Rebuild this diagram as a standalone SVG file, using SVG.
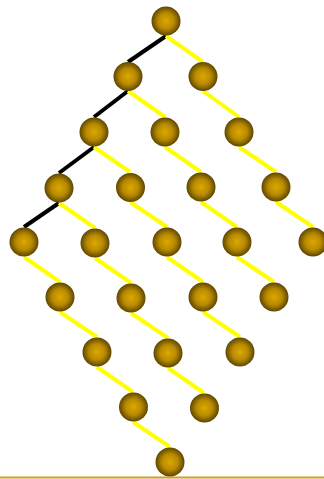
<svg xmlns="http://www.w3.org/2000/svg" width="324" height="479" viewBox="0 0 324 479">
<defs>
<radialGradient id="ball" cx="0.5" cy="0.5" r="0.5">
<stop offset="0" stop-color="#dca800"/>
<stop offset="0.55" stop-color="#b88a00"/>
<stop offset="1" stop-color="#5e4600"/>
</radialGradient>
</defs>
<style>
.n{fill:url(#ball)}
.y{stroke:#ffff00;stroke-width:4;fill:none}
.k{stroke:#000;stroke-width:4;fill:none}
</style>
<rect width="324" height="479" fill="#fff"/>
<line x1="0" y1="477.5" x2="324" y2="477.5" stroke="#d4a017" stroke-width="2"/>
<g id="connectors">
<line class="k" x1="166" y1="36" x2="128" y2="62"/>
<line class="k" x1="128" y1="91" x2="94" y2="117"/>
<line class="k" x1="94" y1="147" x2="59" y2="173"/>
<line class="k" x1="59" y1="203" x2="24" y2="227"/>
<line class="y" x1="166" y1="36" x2="203" y2="62"/>
<line class="y" x1="128" y1="91" x2="165" y2="117"/>
<line class="y" x1="203" y1="91" x2="239" y2="117"/>
<line class="y" x1="94" y1="147" x2="130" y2="172"/>
<line class="y" x1="165" y1="147" x2="201" y2="172"/>
<line class="y" x1="239" y1="147" x2="276" y2="172"/>
<line class="y" x1="59" y1="203" x2="95" y2="228"/>
<line class="y" x1="130" y1="202" x2="167" y2="227"/>
<line class="y" x1="201" y1="202" x2="237" y2="227"/>
<line class="y" x1="276" y1="202" x2="313" y2="227"/>
<line class="y" x1="24" y1="257" x2="60" y2="282"/>
<line class="y" x1="95" y1="258" x2="131" y2="283"/>
<line class="y" x1="167" y1="257" x2="203" y2="282"/>
<line class="y" x1="237" y1="257" x2="274" y2="282"/>
<line class="y" x1="60" y1="312" x2="97" y2="337"/>
<line class="y" x1="131" y1="313" x2="168" y2="338"/>
<line class="y" x1="203" y1="312" x2="240" y2="337"/>
<line class="y" x1="97" y1="367" x2="133" y2="392"/>
<line class="y" x1="168" y1="368" x2="204" y2="393"/>
<line class="y" x1="133" y1="422" x2="170" y2="447"/>
</g>
<g id="n1"><circle class="n" cx="166" cy="21" r="14.5"/></g>
<g id="n2"><circle class="n" cx="128" cy="76.5" r="14.5"/></g>
<g id="n3"><circle class="n" cx="203" cy="76.5" r="14.5"/></g>
<g id="n4"><circle class="n" cx="94" cy="132" r="14.5"/></g>
<g id="n5"><circle class="n" cx="165" cy="132" r="14.5"/></g>
<g id="n6"><circle class="n" cx="239" cy="132" r="14.5"/></g>
<g id="n7"><circle class="n" cx="59" cy="188" r="14.5"/></g>
<g id="n8"><circle class="n" cx="130.5" cy="187.5" r="14.5"/></g>
<g id="n9"><circle class="n" cx="201" cy="187" r="14.5"/></g>
<g id="n10"><circle class="n" cx="276" cy="187" r="14.5"/></g>
<g id="n11"><circle class="n" cx="24" cy="242" r="14.5"/></g>
<g id="n12"><circle class="n" cx="95" cy="243" r="14.5"/></g>
<g id="n13"><circle class="n" cx="167" cy="242" r="14.5"/></g>
<g id="n14"><circle class="n" cx="237" cy="242" r="14.5"/></g>
<g id="n15"><circle class="n" cx="313" cy="242" r="14.5"/></g>
<g id="n16"><circle class="n" cx="60" cy="297" r="14.5"/></g>
<g id="n17"><circle class="n" cx="131" cy="298" r="14.5"/></g>
<g id="n18"><circle class="n" cx="203" cy="297" r="14.5"/></g>
<g id="n19"><circle class="n" cx="274" cy="297" r="14.5"/></g>
<g id="n20"><circle class="n" cx="97" cy="352" r="14.5"/></g>
<g id="n21"><circle class="n" cx="168" cy="353" r="14.5"/></g>
<g id="n22"><circle class="n" cx="240" cy="352" r="14.5"/></g>
<g id="n23"><circle class="n" cx="133.5" cy="407" r="14.5"/></g>
<g id="n24"><circle class="n" cx="204.5" cy="408" r="14.5"/></g>
<g id="n25"><circle class="n" cx="170" cy="462" r="14.5"/></g>
</svg>
